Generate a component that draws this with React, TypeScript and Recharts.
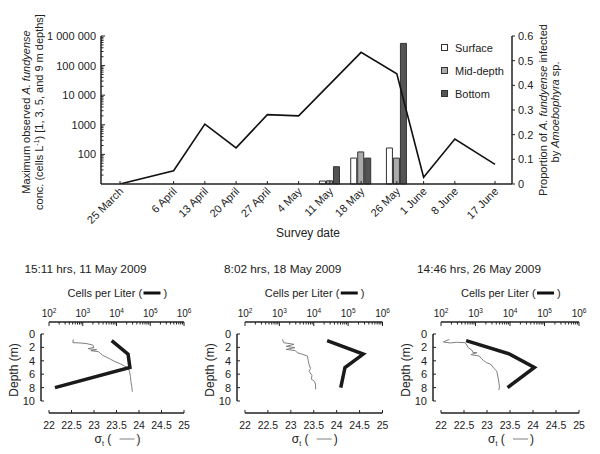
import React from "react";
import {
  ComposedChart,
  Bar,
  Line,
  XAxis,
  YAxis,
  Legend,
  ReferenceLine,
} from "recharts";

const FONT = "'Liberation Sans', Arial, sans-serif";
const INK = "#222";

// survey dates, x position = days after 25 March 2009
const surveyDates = [
  "25 March", "6 April", "13 April", "20 April", "27 April", "4 May",
  "11 May", "18 May", "26 May", "1 June", "8 June", "17 June",
];
const surveyDays = [0, 12, 19, 26, 33, 40, 47, 54, 62, 68, 75, 84];

// max A. fundyense conc (cells/L)
const maxConc = [10, 28, 1050, 166, 2200, 2000, 23700, 280000, 53000, 17, 330, 46];

// proportion infected by Amoebophyra
const infectedSurface = [null, null, null, null, null, null, 0.012, 0.105, 0.146, null, null, null];
const infectedMid = [null, null, null, null, null, null, 0.013, 0.13, 0.105, null, null, null];
const infectedBottom = [null, null, null, null, null, null, 0.07, 0.105, 0.57, null, null, null];

const concTicks = [100, 1000, 10000, 100000, 1000000];
const concTickLabels = ["100", "1000", "10 000", "100 000", "1 000 000"];
const propTicks = [0, 0.1, 0.2, 0.3, 0.4, 0.5, 0.6];

// profiles
const cellDepths = [1, 3, 5, 8];
const cells11May = [7200, 22000, 25000, 150];
const cells18May = [24500, 275000, 81000, 61000];
const cells26May = [535, 9800, 51000, 8500];

const sigmaDepth11May = [0.8, 1.29, 1.34, 1.44, 1.64, 1.99, 2.19, 2.34, 2.49, 2.64, 2.94, 3.18, 3.43, 3.78, 4.13, 4.43, 4.78, 5.12, 5.62, 6.37, 7.12, 7.86, 8.61];
const sigma11May = [22.54, 22.53, 22.69, 22.84, 22.97, 23.0, 22.87, 23.06, 22.93, 23.1, 23.15, 23.19, 23.27, 23.37, 23.47, 23.58, 23.68, 23.76, 23.79, 23.81, 23.82, 23.84, 23.85];

const sigmaDepth18May = [0.8, 1.29, 1.54, 1.84, 2.04, 2.29, 2.49, 2.79, 2.99, 3.28, 3.98, 4.63, 5.12, 5.62, 6.17, 6.77, 7.07, 7.61, 8.26];
const sigma18May = [22.82, 22.84, 23.07, 22.9, 23.09, 22.9, 23.1, 23.14, 23.24, 23.36, 23.38, 23.4, 23.43, 23.4, 23.46, 23.45, 23.52, 23.54, 23.54];

const sigmaDepth26May = [0.8, 1.19, 1.34, 1.24, 1.29, 1.64, 2.04, 2.39, 2.74, 2.79, 3.08, 3.28, 3.68, 3.98, 4.28, 4.48, 4.78, 5.12, 5.52, 6.12, 6.87, 7.36, 7.76, 8.36];
const sigma26May = [22.18, 22.05, 22.2, 22.34, 22.52, 22.56, 22.59, 22.67, 22.69, 22.78, 22.65, 22.83, 22.88, 22.93, 22.99, 23.07, 23.11, 23.15, 23.21, 23.23, 23.25, 23.26, 23.27, 23.26];

const cellMajorTicks = [100, 1000, 10000, 100000, 1000000];
const sigmaTicks = [22, 22.5, 23, 23.5, 24, 24.5, 25];
const depthTicks = [0, 2, 4, 6, 8, 10];

// log axis minor ticks 2..9 per decade
const withMinor = (majors: number[]) =>
  majors.flatMap((m, i) =>
    i === majors.length - 1 ? [m] : [m, ...[2, 3, 4, 5, 6, 7, 8, 9].map((k) => m * k)]
  );

const surveyRows = surveyDays.map((day, i) => ({
  day,
  conc: maxConc[i],
  surface: infectedSurface[i],
  mid: infectedMid[i],
  bottom: infectedBottom[i],
}));

const legendOrder = ["surface", "mid", "bottom"];
const BAR_FILL: Record<string, string> = { surface: "#ffffff", mid: "#ababab", bottom: "#545454" };

function ConcTick({ x, y, payload }: any) {
  const i = concTicks.indexOf(payload.value);
  return (
    <g>
      <line x1={x} x2={x + (i >= 0 ? 4 : 2.5)} y1={y} y2={y} stroke={INK} />
      {i >= 0 && (
        <text x={x - 5} y={y + 4} textAnchor="end" fontSize={11} fill={INK} fontFamily={FONT}>
          {concTickLabels[i]}
        </text>
      )}
    </g>
  );
}

function DateTick({ x, y, payload }: any) {
  const i = surveyDays.indexOf(payload.value);
  const tx = x + 4;
  const ty = y + 8;
  return (
    <g>
      <line x1={x} x2={x} y1={y} y2={y - 3} stroke={INK} />
      <text x={tx} y={ty} transform={`rotate(-45 ${tx} ${ty})`} textAnchor="end" fontSize={11} fill={INK} fontFamily={FONT}>
        {surveyDates[i]}
      </text>
    </g>
  );
}

function DepthLegend({ payload }: any) {
  const items = legendOrder
    .map((k) => (payload || []).find((p: any) => p.dataKey === k))
    .filter(Boolean);
  return (
    <div style={{ fontFamily: FONT, fontSize: 11, color: INK }}>
      {items.map((p: any) => (
        <div key={p.dataKey} style={{ display: "flex", alignItems: "center", height: 23 }}>
          <span
            style={{
              width: 5,
              height: 5,
              border: "1px solid #333",
              background: BAR_FILL[p.dataKey],
              marginRight: 7,
            }}
          />
          {p.value}
        </div>
      ))}
    </div>
  );
}

function SurveyChart() {
  return (
    <div style={{ position: "absolute", left: 0, top: 0 }}>
      <ComposedChart
        width={600}
        height={240}
        data={surveyRows}
        barGap={1}
        margin={{ top: 36, right: 0, bottom: 0, left: 0 }}
      >
        <XAxis
          dataKey="day"
          type="number"
          domain={[-4.26, 87.8]}
          ticks={surveyDays}
          interval={0}
          height={56}
          tickSize={0}
          tickMargin={0}
          tickLine={false}
          axisLine={{ stroke: INK, strokeWidth: 1.5 }}
          tick={<DateTick />}
          allowDataOverflow
        />
        <YAxis
          yAxisId="conc"
          scale="log"
          type="number"
          domain={[10, 1000000]}
          ticks={withMinor([10, ...concTicks]).slice(1)}
          interval={0}
          width={101}
          tickSize={0}
          tickMargin={0}
          tickLine={false}
          axisLine={{ stroke: INK, strokeWidth: 1.5 }}
          tick={<ConcTick />}
          allowDataOverflow
        />
        <YAxis
          yAxisId="prop"
          orientation="right"
          type="number"
          domain={[0, 0.6]}
          ticks={propTicks}
          interval={0}
          width={88}
          tickSize={3}
          tickMargin={3}
          tickLine={{ stroke: INK }}
          axisLine={{ stroke: INK, strokeWidth: 1.5 }}
          tick={{ fill: INK, fontSize: 11, fontFamily: FONT }}
        />
        <Legend
          layout="vertical"
          align="center"
          verticalAlign="middle"
          wrapperStyle={{ left: 441, top: 36, width: 90 }}
          content={<DepthLegend />}
        />
        <Bar yAxisId="prop" dataKey="surface" name="Surface" fill={BAR_FILL.surface} stroke="#333" barSize={6} isAnimationActive={false} />
        <Bar yAxisId="prop" dataKey="mid" name="Mid-depth" fill={BAR_FILL.mid} stroke="#333" barSize={6} isAnimationActive={false} />
        <Bar yAxisId="prop" dataKey="bottom" name="Bottom" fill={BAR_FILL.bottom} stroke="#333" barSize={6} isAnimationActive={false} />
        <Line
          yAxisId="conc"
          dataKey="conc"
          stroke="#111"
          strokeWidth={1.6}
          dot={false}
          legendType="none"
          isAnimationActive={false}
        />
      </ComposedChart>
      <svg width={600} height={240} style={{ position: "absolute", left: 0, top: 0, pointerEvents: "none" }} fontFamily={FONT} fill={INK}>
        <text x={308} y={237} textAnchor="middle" fontSize={12}>Survey date</text>
        <g transform="translate(29.5 112) rotate(-90)">
          <text textAnchor="middle" fontSize={11}>
            Maximum observed <tspan fontStyle="italic">A. fundyense</tspan>
          </text>
        </g>
        <g transform="translate(43 112) rotate(-90)">
          <text textAnchor="middle" fontSize={11}>
            conc. (cells L<tspan dy={-4} fontSize={7}>-1</tspan>
            <tspan dy={4}>) [1, 3, 5, and 9 m depths]</tspan>
          </text>
        </g>
        <g transform="translate(546.5 110) rotate(-90)">
          <text textAnchor="middle" fontSize={11}>
            Proportion of <tspan fontStyle="italic">A. fundyense</tspan> infected
          </text>
        </g>
        <g transform="translate(559 112) rotate(-90)">
          <text textAnchor="middle" fontSize={11}>
            by <tspan fontStyle="italic">Amoebophyra</tspan> sp.
          </text>
        </g>
      </svg>
    </div>
  );
}

function CellTick({ x, y, payload }: any) {
  const exp = Math.round(Math.log10(payload.value));
  const major = cellMajorTicks.includes(payload.value);
  return (
    <g>
      <line x1={x} x2={x} y1={y} y2={y + (major ? 4 : 2.5)} stroke={INK} />
      {major && (
        <text x={x} y={y - 5} textAnchor="middle" fontSize={10} fill={INK} fontFamily={FONT}>
          10<tspan dy={-4} fontSize={6.5}>{exp}</tspan>
        </text>
      )}
    </g>
  );
}

function SigmaTick({ x, y, payload }: any) {
  return (
    <g>
      <line x1={x} x2={x} y1={y} y2={y - 3} stroke={INK} />
      <text x={x} y={y + 16} textAnchor="middle" fontSize={10.5} fill={INK} fontFamily={FONT}>
        {payload.value}
      </text>
    </g>
  );
}

function DepthTick({ x, y, payload }: any) {
  return (
    <g>
      <line x1={x - 8} x2={x - 5} y1={y} y2={y} stroke={INK} />
      <text x={x - 14} y={y + 4} textAnchor="end" fontSize={11} fill={INK} fontFamily={FONT}>
        {payload.value}
      </text>
    </g>
  );
}

type PanelProps = {
  title: string;
  cells: number[];
  sigmaDepth: number[];
  sigma: number[];
  left: number;
  plotLeft: number;
  plotRight: number;
};

function ProfilePanel({ title, cells, sigmaDepth, sigma, left, plotLeft, plotRight }: PanelProps) {
  const w = 200;
  const h = 200;
  const cellRows = cellDepths.map((depth, i) => ({ depth, cells: cells[i] }));
  const sigmaRows = sigmaDepth.map((depth, i) => ({ depth, sigma: sigma[i] }));
  const pxPerUnit = (plotRight - plotLeft) / 3;
  const axisSigma = 22 - 8 / pxPerUnit;
  const cx = (plotLeft + plotRight) / 2 - left;

  return (
    <div style={{ position: "absolute", left, top: 250, width: w, height: h }}>
      <ComposedChart
        width={w}
        height={h}
        layout="vertical"
        margin={{ top: 42, right: w - (plotRight - left), bottom: 7, left: 0 }}
      >
        <XAxis
          xAxisId="cells"
          orientation="top"
          type="number"
          scale="log"
          domain={[100, 1000000]}
          ticks={withMinor(cellMajorTicks)}
          interval={0}
          height={30}
          tickSize={0}
          tickMargin={0}
          tickLine={false}
          axisLine={{ stroke: INK, strokeWidth: 1.5 }}
          tick={<CellTick />}
          allowDataOverflow
        />
        <XAxis
          xAxisId="sigma"
          orientation="bottom"
          type="number"
          domain={[22, 25]}
          ticks={sigmaTicks}
          interval={0}
          height={30}
          tickSize={0}
          tickMargin={0}
          tickLine={false}
          axisLine={{ stroke: INK, strokeWidth: 1.5 }}
          tick={<SigmaTick />}
          allowDataOverflow
        />
        <YAxis
          type="number"
          dataKey="depth"
          domain={[0, 10]}
          ticks={depthTicks}
          interval={0}
          width={plotLeft - left}
          padding={{ top: 12, bottom: 12 }}
          tickSize={0}
          tickMargin={0}
          tickLine={false}
          axisLine={false}
          tick={<DepthTick />}
          allowDataOverflow
        />
        <ReferenceLine
          xAxisId="sigma"
          segment={[
            { x: axisSigma, y: 0 },
            { x: axisSigma, y: 10 },
          ]}
          ifOverflow="visible"
          stroke={INK}
          strokeWidth={1.5}
        />
        <Line
          xAxisId="sigma"
          data={sigmaRows}
          dataKey="sigma"
          stroke="#808080"
          strokeWidth={1}
          dot={false}
          isAnimationActive={false}
        />
        <Line
          xAxisId="cells"
          data={cellRows}
          dataKey="cells"
          stroke="#1a1a1a"
          strokeWidth={3.5}
          dot={false}
          isAnimationActive={false}
        />
      </ComposedChart>
      <svg
        width={w}
        height={h}
        style={{ position: "absolute", left: 0, top: 0, pointerEvents: "none" }}
        fontFamily={FONT}
        fill={INK}
      >
        <text x={cx - 31} y={23} textAnchor="middle" fontSize={11.8}>{title}</text>
        <text x={cx - 49} y={47} fontSize={11}>Cells per Liter (</text>
        <line x1={cx + 27} x2={cx + 44} y1={43} y2={43} stroke="#111" strokeWidth={3} />
        <text x={cx + 47} y={47} fontSize={11}>)</text>
        <text x={cx - 22} y={193} fontSize={12}>
          σ<tspan dy={3} fontSize={7}>t</tspan>
          <tspan dy={-3}> (</tspan>
        </text>
        <line x1={cx + 3} x2={cx + 18} y1={189} y2={189} stroke="#808080" strokeWidth={1} />
        <text x={cx + 20} y={193} fontSize={12}>)</text>
        <g transform={`translate(${plotLeft - left - 31} 120) rotate(-90)`}>
          <text textAnchor="middle" fontSize={12}>Depth (m)</text>
        </g>
      </svg>
    </div>
  );
}

export default function App() {
  return (
    <div style={{ position: "absolute", left: 0, top: 0, width: 600, height: 454, background: "#fff", fontFamily: FONT }}>
      <SurveyChart />
      <ProfilePanel
        title="15:11 hrs, 11 May 2009"
        cells={cells11May}
        sigmaDepth={sigmaDepth11May}
        sigma={sigma11May}
        left={0}
        plotLeft={49}
        plotRight={184}
      />
      <ProfilePanel
        title="8:02 hrs, 18 May 2009"
        cells={cells18May}
        sigmaDepth={sigmaDepth18May}
        sigma={sigma18May}
        left={200}
        plotLeft={245}
        plotRight={382.5}
      />
      <ProfilePanel
        title="14:46 hrs, 26 May 2009"
        cells={cells26May}
        sigmaDepth={sigmaDepth26May}
        sigma={sigma26May}
        left={400}
        plotLeft={441}
        plotRight={579}
      />
    </div>
  );
}
